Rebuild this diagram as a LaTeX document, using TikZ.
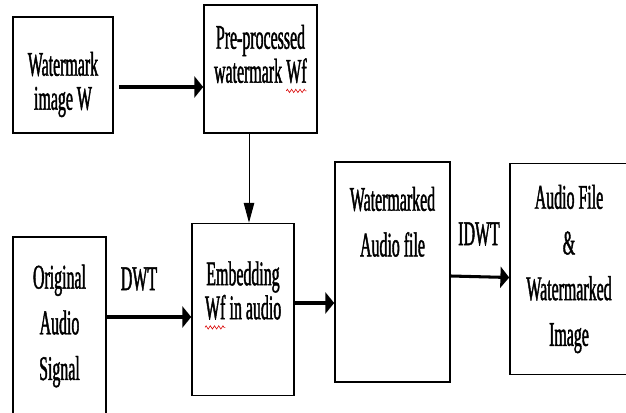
\documentclass[tikz,border=0pt]{standalone}
\usepackage{fontspec}
\setmainfont{Liberation Serif}[FakeStretch=0.46,FakeBold=1.2]
\usetikzlibrary{arrows.meta,decorations.pathmorphing}

% red spelling squiggle under a word
\newcommand{\redwave}[1]{\tikz[baseline=(sq.base)]{\node[draw=none,inner sep=0pt,outer sep=0pt,minimum width=0pt,minimum height=0pt,align=none] (sq) {#1};
  \draw[red!85!black,line width=0.5pt,decorate,decoration={zigzag,amplitude=1.4pt,segment length=3.6pt}]
    ([yshift=-7pt]sq.base west) -- ([yshift=-7pt]sq.base east);}}

\begin{document}
\begin{tikzpicture}[x=0.3mm,y=-0.3mm,
    box/.style={draw,line width=1.4pt,inner sep=0pt,align=center},
    tight/.style={font=\fontsize{29.5}{29}\selectfont},
    loose/.style={font=\fontsize{29.5}{39}\selectfont},
    boxtext/.style={align=center,inner sep=0pt,anchor=north},
    arr/.style={-{Triangle[length=7.5pt,width=18pt]},line width=2.6pt},
    droparr/.style={-{Triangle[length=17pt,width=9pt]},line width=0.8pt}]
    \useasboundingbox (0,0) rectangle (626,412);
    % top row
    \node[box,minimum width=30mm,minimum height=34.8mm,
        label={[boxtext,tight,yshift=-10.6mm]north:{Watermark\\image W}}] (wmimg) at (63,75) {};
    \node[box,minimum width=33.9mm,minimum height=38.4mm,
        label={[boxtext,tight,yshift=-6.1mm]north:{Pre-processed\\watermark \redwave{Wf}}}] (prep) at (260.5,69) {};
    % bottom row
    \node[box,loose,minimum width=27.9mm,minimum height=53.4mm] (orig) at (59.5,326) {Original\\Audio\\Signal};
    \node[box,minimum width=30.6mm,minimum height=51.6mm,
        label={[boxtext,tight,yshift=-11.5mm]north:{Embedding\\\redwave{Wf} in audio}}] (embed) at (243,309.5) {};
    \node[box,minimum width=34.5mm,minimum height=66mm,
        label={[boxtext,loose,yshift=-7.6mm]north:{Watermarked\\Audio file}}] (wmaudio) at (392.5,272) {};
    \node[box,loose,minimum width=35.4mm,minimum height=63.3mm] (result) at (569,269) {Audio File\\\&\\Watermarked\\Image};
    % transform labels
    \node[tight] (dwt) at (139,279) {DWT};
    \node[tight] (idwt) at (479,234) {IDWT};
    % connectors
    \draw[arr] ([shift={(5,12)}]wmimg.east) -- ([shift={(0,18)}]prep.west);
    \draw[droparr] ([shift={(-11.5,0)}]prep.south) -- ([shift={(6,0)}]embed.north);
    \draw[arr] ([shift={(0,-9)}]orig.east) -- ([shift={(0,7.5)}]embed.west);
    \draw[arr] ([shift={(0,-6.5)}]embed.east) -- ([shift={(0,31)}]wmaudio.west);
    \draw[arr] ([shift={(0,4)}]wmaudio.east) -- ([shift={(0,8.5)}]result.west);
\end{tikzpicture}
\end{document}
